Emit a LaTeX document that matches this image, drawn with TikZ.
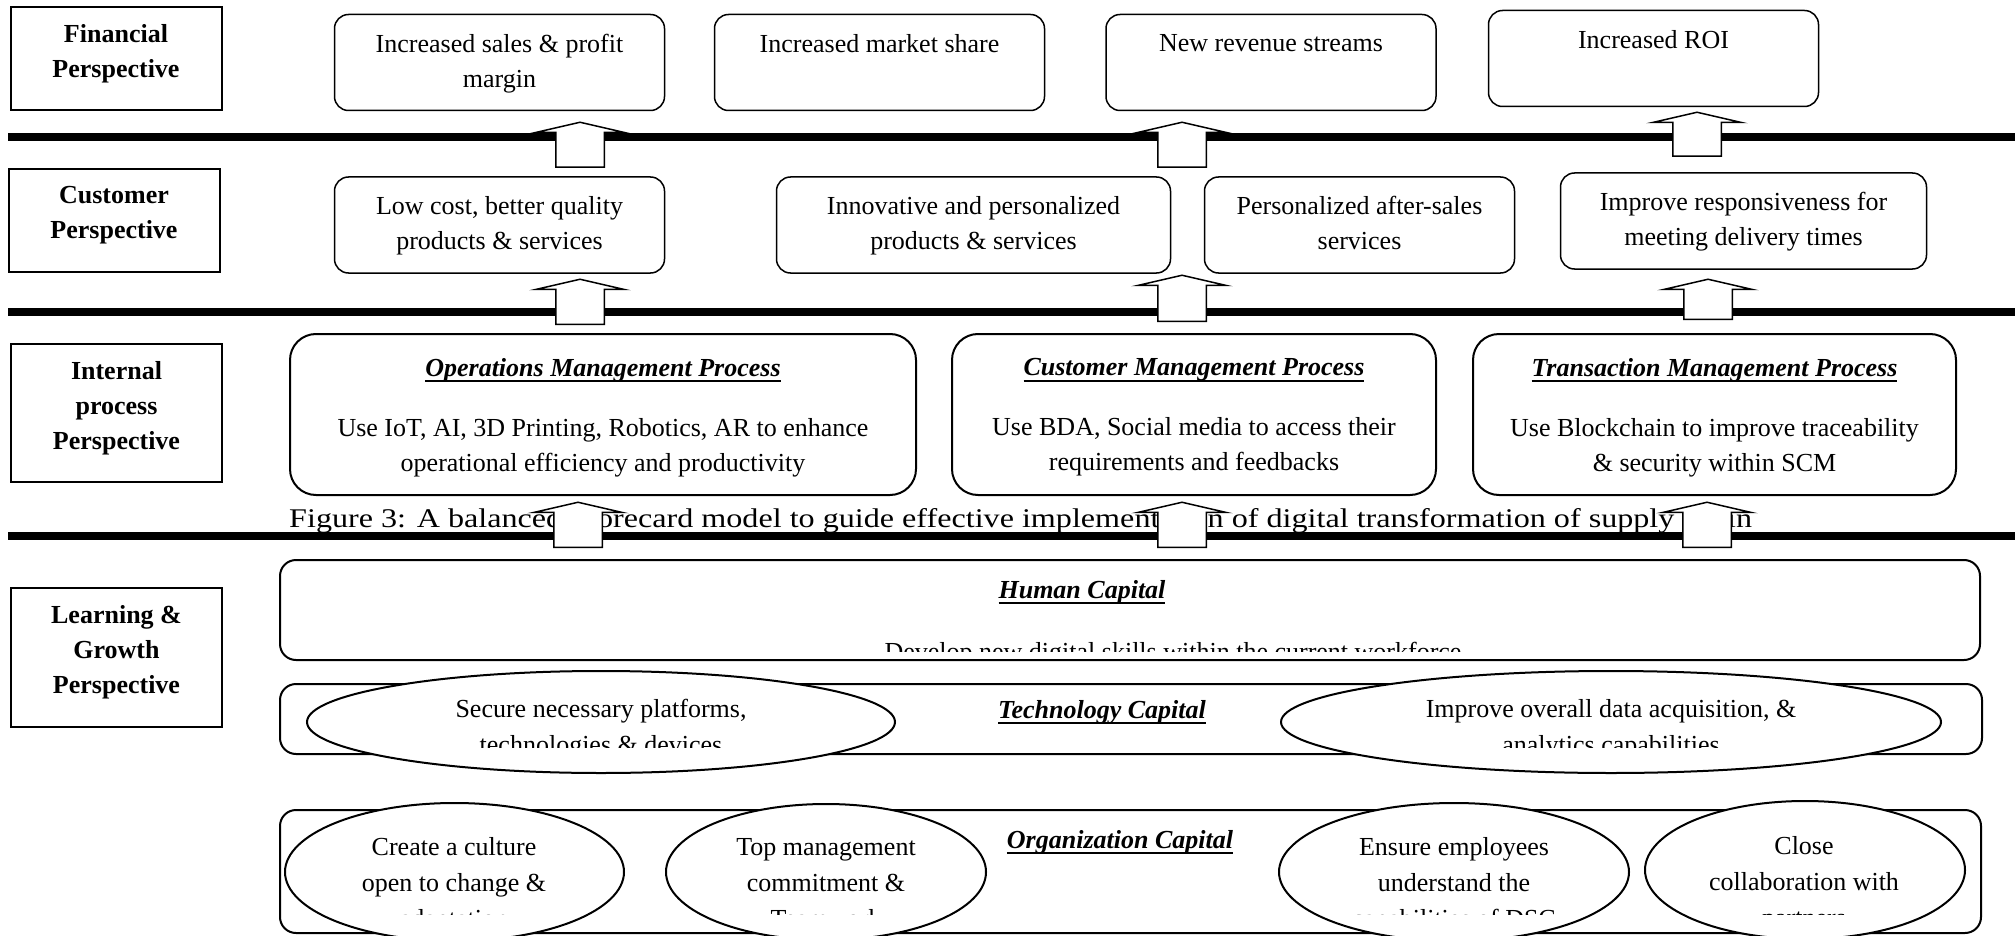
\documentclass[tikz,border=0pt]{standalone}
\usepackage{fontspec}
\setmainfont{Liberation Serif}
\usepackage{graphicx}
\usetikzlibrary{shapes.geometric, shapes.arrows, positioning}

\newsavebox{\headbox}
\newcommand{\ulhead}[1]{\sbox{\headbox}{\bfseries\itshape #1}\rlap{\rule[-6pt]{\wd\headbox}{2pt}}\usebox{\headbox}}

\begin{document}
\begin{tikzpicture}[
        x=1pt, y=-1pt,
        perspective/.style={rectangle, draw, line width=2pt, minimum width=211pt, align=center, inner sep=0pt, text depth=16pt, font=\fontsize{26}{35}\selectfont\bfseries},
        outcome/.style={rectangle, draw, line width=1.5pt, rounded corners=14pt, minimum width=330pt, minimum height=96pt, align=center, inner sep=0pt, text depth=4pt, font=\fontsize{26}{35}\selectfont},
        process/.style={rectangle, draw, line width=2pt, rounded corners=26pt, minimum height=161pt, align=center, inner sep=0pt, text depth=0pt, font=\fontsize{26}{35}\selectfont},
        capital/.style={rectangle, draw, line width=2pt, rounded corners=16pt, inner sep=0pt},
        bubble/.style={ellipse, draw, line width=2pt, fill=white, inner sep=0pt},
        heading/.style={inner sep=0pt, anchor=base, font=\fontsize{26}{35}\selectfont},
        plain/.style={inner sep=0pt, align=center, anchor=north, font=\fontsize{26}{36}\selectfont},
        divider/.style={line width=8pt},
        uparrow/.style={single arrow, draw, fill=white, line width=1.5pt, shape border rotate=90, single arrow head extend=20pt, single arrow tip angle=154, minimum width=88pt, inner xsep=23.5pt, inner ysep=0pt, anchor=tail}
    ]
        \clip (0,0) rectangle (2015,936);

        % Perspectives
        \node[perspective, minimum height=103pt] (financial) at (116,58.5) {Financial\\Perspective};
        \node[perspective, minimum height=103pt] (customer) at (114,220.5) {Customer\\Perspective};
        \node[perspective, minimum height=138pt] (internal) at (116.5,413) {Internal\\process\\Perspective};
        \node[perspective, minimum height=139pt] (learning) at (116.5,657.5) {Learning \&\\Growth\\Perspective};

        % Financial goals
        \node[outcome] (sales) at (499.5,62.5) {Increased sales \& profit\\margin};
        \node[outcome] (share) at (879.5,62.5) {Increased market share\\\mbox{}};
        \node[outcome] (revenue) at (1271,62.5) {New revenue streams\\\mbox{}};
        \node[outcome] (roi) at (1653.5,58.5) {Increased ROI\\\mbox{}};

        % Customer goals
        \node[outcome] (lowcost) at (499.5,225) {Low cost, better quality\\products \& services};
        \node[outcome, minimum width=394pt] (innovative) at (973.5,225) {Innovative and personalized\\products \& services};
        \node[outcome, minimum width=310pt] (aftersales) at (1359.5,225) {Personalized after-sales\\services};
        \node[outcome, minimum width=366pt] (delivery) at (1743.5,221) {Improve responsiveness for\\meeting delivery times};

        % Internal processes
        \node[process, minimum width=626pt] (operations) at (603,414.5) {\ulhead{Operations Management Process}\\[25pt]Use IoT, AI, 3D Printing, Robotics, AR to enhance\\operational efficiency and productivity};
        \node[process, minimum width=484pt] (custmgmt) at (1194,414.5) {\ulhead{Customer Management Process}\\[25pt]Use BDA, Social media to access their\\requirements and feedbacks};
        \node[process, minimum width=483pt] (transaction) at (1714.5,414.5) {\ulhead{Transaction Management Process}\\[25pt]Use Blockchain to improve traceability\\\& security within SCM};

        % Caption
        \node[inner sep=0pt, anchor=base west, font=\fontsize{27}{35}\selectfont] (figcaption) at (289,527) {\scalebox{1.19}[1]{Figure 3: A balanced scorecard model to guide effective implementation of digital transformation of supply chain}};

        % Dividers
        \foreach \y in {137,311.5,536}
            \draw[divider] (8,\y) -- (2015,\y);

        % Arrows
        \node[uparrow, minimum height=45pt] (upsales) at (580,168) {};
        \node[uparrow, minimum height=45pt] (uprevenue) at (1182,168) {};
        \node[uparrow, minimum height=44pt] (uproi) at (1697,157) {};
        \node[uparrow, minimum height=45pt] (uplowcost) at (580,325) {};
        \node[uparrow, minimum height=46pt] (upinnovative) at (1182,322) {};
        \node[uparrow, minimum height=40pt] (updelivery) at (1708,320) {};
        \node[uparrow, minimum height=45pt] (upoperations) at (578,548) {};
        \node[uparrow, minimum height=45pt] (upcustmgmt) at (1182,548) {};
        \node[uparrow, minimum height=45pt] (uptransaction) at (1707,548) {};

        % Learning & growth capitals
        \node[capital, minimum width=1700pt, minimum height=100pt] (human) at (1130,610) {};
        \node[capital, minimum width=1702pt, minimum height=70pt] (technology) at (1131,719) {};
        \node[capital, minimum width=1701pt, minimum height=123pt] (organization) at (1130.5,871.5) {};

        \node[heading] (humanhead) at (1082,598) {\ulhead{Human Capital}};
        \node[heading] (techhead) at (1102,718) {\ulhead{Technology Capital}};
        \node[heading] (orghead) at (1120,848) {\ulhead{Organization Capital}};

        \begin{scope}
            \clip (279,559) rectangle (1983,651);
            \node[heading] (skills) at (1173,660) {Develop new digital skills within the current workforce};
        \end{scope}

        % Technology ellipses
        \node[bubble, minimum width=588pt, minimum height=102pt] (platforms) at (601,722) {};
        \node[bubble, minimum width=660pt, minimum height=102pt] (analytics) at (1611,722) {};
        \begin{scope}
            \clip (279,660) rectangle (1983,747);
            \node[plain] (platformstext) at (601,692.5) {\strut Secure necessary platforms,\\technologies \& devices};
            \node[plain] (analyticstext) at (1611,692.5) {\strut Improve overall data acquisition, \&\\analytics capabilities};
        \end{scope}

        % Organization ellipses
        \node[bubble, minimum width=339pt, minimum height=138pt] (culture) at (454.5,872) {};
        \node[bubble, minimum width=320pt, minimum height=136pt] (topmgmt) at (826,872) {};
        \node[bubble, minimum width=350pt, minimum height=138pt] (employees) at (1454,872) {};
        \node[bubble, minimum width=320pt, minimum height=138pt] (partners) at (1805,870) {};
        \begin{scope}
            \clip (279,790) rectangle (1983,914.5);
            \node[plain] (culturetext) at (454,830) {\strut Create a culture\\open to change \&\\adaptation};
            \node[plain] (topmgmttext) at (826,830) {\strut Top management\\commitment \&\\Teamwork};
            \node[plain] (employeestext) at (1454,830) {\strut Ensure employees\\understand the\\capabilities of DSC};
            \node[plain] (partnerstext) at (1804,829) {\strut Close\\collaboration with\\partners};
        \end{scope}

    \end{tikzpicture}
\end{document}
